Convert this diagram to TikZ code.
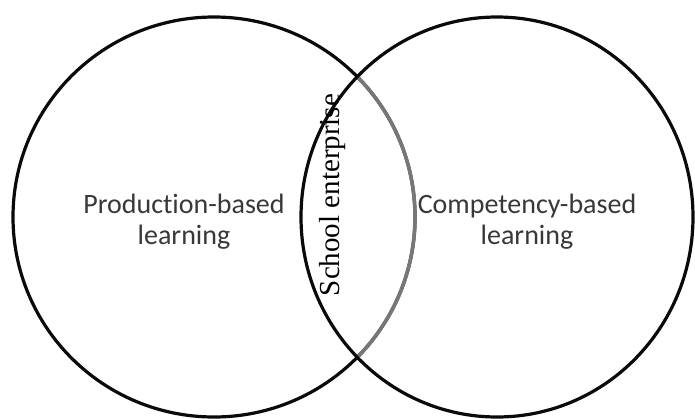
\documentclass[tikz,border=0pt]{standalone}
\usepackage{fontspec}
\newfontfamily\labelfont[Ligatures={NoCommon}]{Carlito}
\newfontfamily\seriffont{Liberation Serif}
\definecolor{ring}{HTML}{0A0A0A}
\definecolor{ringgray}{HTML}{777777}
\definecolor{labelgray}{HTML}{383838}
\begin{document}
\begin{tikzpicture}[x=1pt,y=-1pt,
  ringline/.style={draw=ring,line width=3.2pt},
  ringinner/.style={draw=ringgray,line width=3.6pt},
  sidelabel/.style={text=labelgray,font=\labelfont\fontsize{28}{31}\selectfont,inner sep=0pt,anchor=base},
  midlabel/.style={text=black,font=\seriffont\fontsize{29}{31}\selectfont,inner sep=0pt,anchor=base,rotate=90}]
\useasboundingbox (0,0) rectangle (695,418);
\fill[white] (0,0) rectangle (695,418);
% circles
\draw[ringline] (214,217) ellipse [x radius=201,y radius=200];
\draw[ringline] (497,217) ellipse [x radius=196,y radius=200];
\begin{scope}
  \clip (497,217) ellipse [x radius=194.4,y radius=198.4];
  \draw[ringinner] (214,217) ellipse [x radius=201,y radius=200];
\end{scope}
% labels
\node[sidelabel] (lp1) at (184,213) {Production-based};
\node[sidelabel] (lp2) at (184,244) {learning};
\node[sidelabel] (rc1) at (527,213) {Competency-based};
\node[sidelabel] (rc2) at (527,244) {learning};
\node[midlabel] (se) at (339,195) {School enterprise};
\end{tikzpicture}
\end{document}
